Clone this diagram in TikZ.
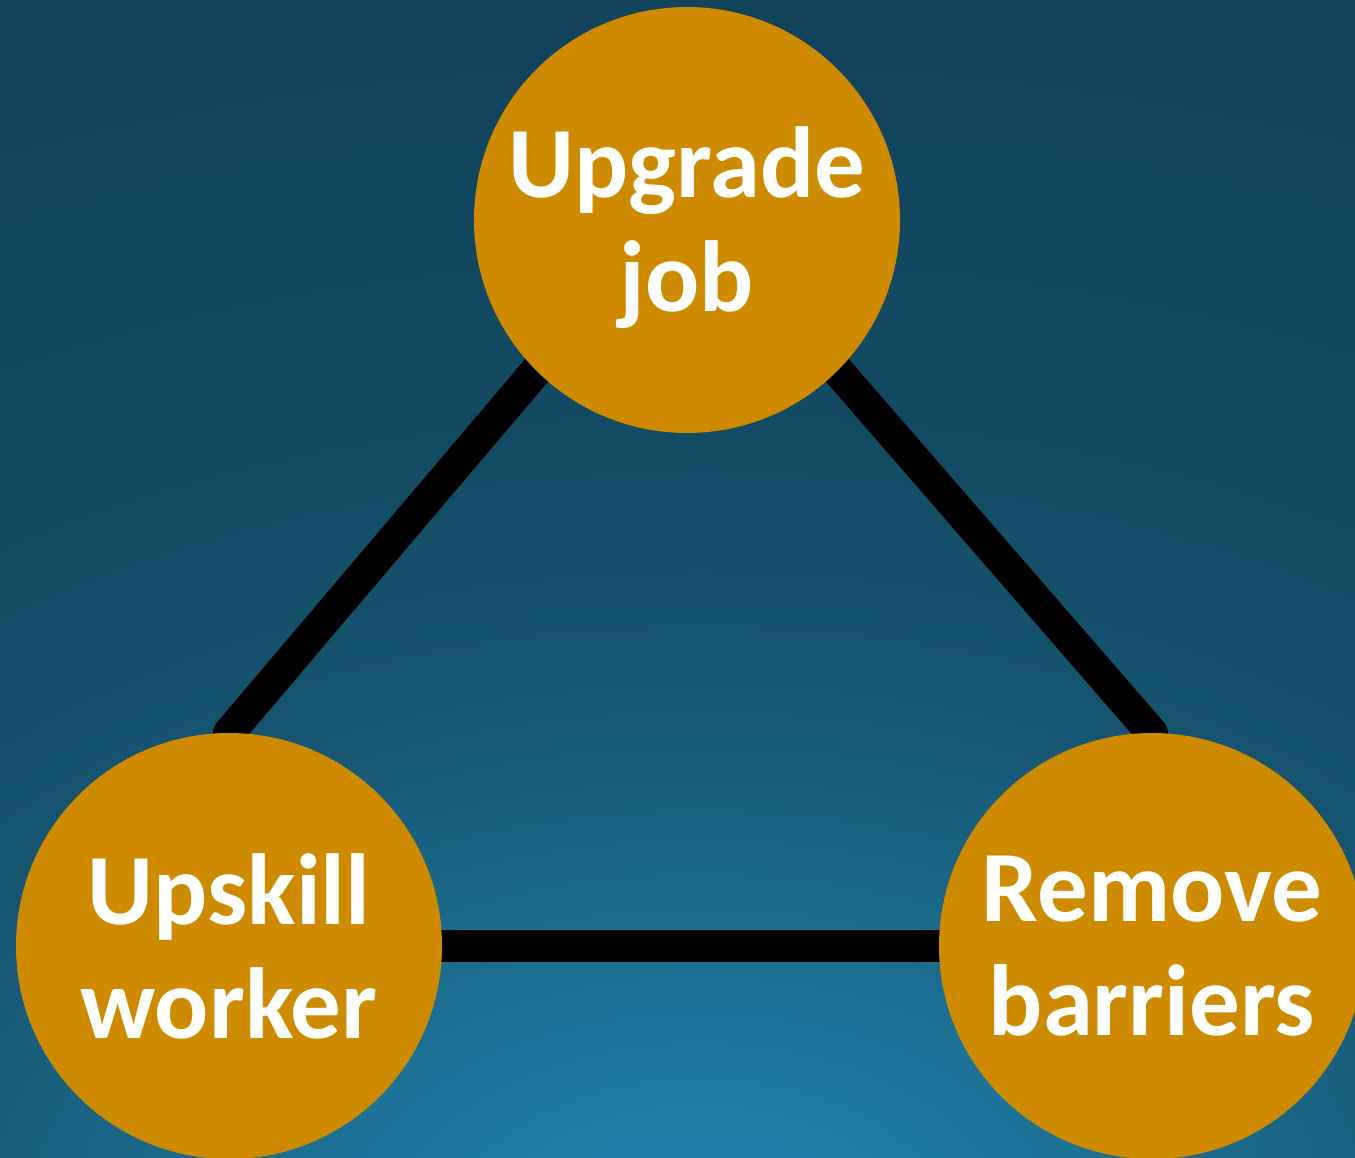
\documentclass[tikz,border=0pt]{standalone}
\usepackage{fontspec}
\setmainfont{Carlito}
\usetikzlibrary{backgrounds}
\definecolor{orng}{HTML}{CE8B00}
\definecolor{bgA}{HTML}{2082AA}
\definecolor{bgB}{HTML}{1F7DA4}
\definecolor{bgC}{HTML}{1B6686}
\definecolor{bgD}{HTML}{165470}
\definecolor{bgE}{HTML}{134A63}
\definecolor{bgF}{HTML}{11425A}
\pgfdeclareradialshading{bgshade}{\pgfpoint{0bp}{0bp}}{color(0bp)=(bgA); color(2.5bp)=(bgB); color(7.5bp)=(bgC); color(11.25bp)=(bgD); color(16.25bp)=(bgE); color(25bp)=(bgF); color(50bp)=(bgF)}
\tikzset{
  ball/.style={circle, fill=orng, minimum size=426pt, inner sep=0pt, outer sep=0pt,
    text=white, align=center, font=\bfseries\fontsize{101}{114}\selectfont},
  link/.style={line width=32pt, black, line cap=round}
}
\begin{document}
\begin{tikzpicture}[x=1pt,y=-1pt]
\useasboundingbox (0,0) rectangle (1355,1158);
\clip (0,0) rectangle (1355,1158);
\node[ball] (top) at (687,220) {\rule{0pt}{87pt}Upgrade\\job};
\node[ball] (bl) at (229,946) {Upskill\\worker};
\node[ball] (br) at (1152,946) {Remove\\barriers};
\begin{scope}[on background layer]
  \shade[shading=bgshade] (-1300,-50) rectangle (2700,2550);
  \draw[link] (bl.north) -- (top.south west);
  \draw[link] (br.north) -- (top.south east);
  \draw[link] (bl.east) -- (br.west);
\end{scope}
\end{tikzpicture}
\end{document}
